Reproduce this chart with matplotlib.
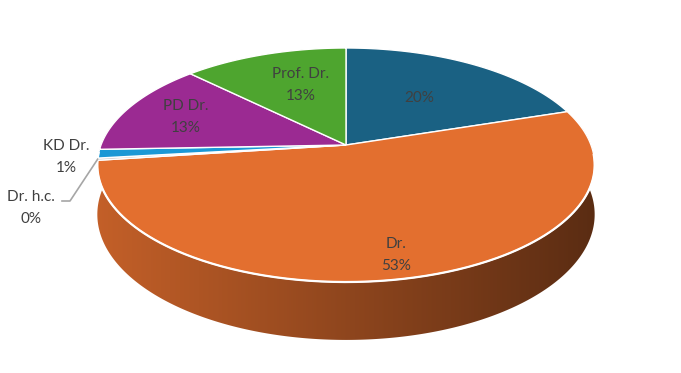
import numpy as np
import matplotlib
matplotlib.use('Agg')
import matplotlib.pyplot as plt

# data, clockwise from 12 o'clock
labels = ["", "Dr.", "Dr. h.c.", "KD Dr.", "PD Dr.", "Prof. Dr."]
values = [20.0, 52.9, 0.3, 1.2, 13.0, 12.6]
colors = ["#1a6183", "#e36f2f", "#c8c8c8", "#1b98d5", "#9b2a92", "#4ea52f"]

# geometry of the fake 3d pie (pixel space)
cx, rx = 346, 245
A, B, k = -88.8, 145.0, 0.171
depth = 48.0

def proj(u, v, h=1.0):
    s = 1.0 / (1 + k * v)
    x = cx + rx * u * s
    y = (A * v + B) * s + (1 - h) * depth * s
    return x, y

fig = plt.figure(figsize=(6.81, 3.73), dpi=100)
ax = fig.add_axes([0, 0, 1, 1])
ax.set_xlim(0, 681)
ax.set_ylim(373, 0)
ax.axis('off')

fracs = np.array(values) / sum(values)
edges = np.concatenate([[0], np.cumsum(fracs)]) * 2 * np.pi

# side: only the front (orange) part is visible, shaded left -> right
t = np.linspace(np.radians(80), np.radians(280), 400)
top_arc = [proj(np.sin(a), np.cos(a), 1) for a in t]
bot_arc = [proj(np.sin(a), np.cos(a), 0) for a in t[::-1]]
side = plt.Polygon(top_arc + bot_arc, closed=True, facecolor='none', edgecolor='none')
ax.add_patch(side)
xs = np.linspace(90, 600, 256)
f = 0.86 - 0.46 * (xs - 97) / 497
base = np.array(matplotlib.colors.to_rgb(colors[1]))
grad = np.clip(f[:, None] * base[None, :], 0, 1)[None, :, :]
im = ax.imshow(grad, extent=(90, 600, 360, 100), aspect='auto', interpolation='bilinear', zorder=1)
im.set_clip_path(side)

# top wedges
for i in range(len(values)):
    tt = np.linspace(edges[i], edges[i + 1], 200)
    pts = [proj(0, 0)] + [proj(np.sin(a), np.cos(a)) for a in tt]
    ax.add_patch(plt.Polygon(pts, closed=True, facecolor=colors[i], edgecolor='white',
                             linewidth=1.0, zorder=2))

# white rim on the front edge
t = np.linspace(np.radians(95), np.radians(266), 300)
rim = np.array([proj(np.sin(a), np.cos(a)) for a in t])
ax.plot(rim[:, 0], rim[:, 1], color='white', lw=1.6, zorder=3)

# labels
txt = dict(fontsize=11, color='#404040', family=['Lato', 'DejaVu Sans'],
           ha='center', va='center', linespacing=1.75, zorder=4)
r_lab = [0.55, 0.8, None, None, 0.72, 0.63]
nudge = [(0, 0), (0, 8), (0, 0), (0, 0), (-3, 0), (9, 0)]
for i, (lab, val) in enumerate(zip(labels, values)):
    pct = f"{val:.0f}%"
    s = pct if lab == "" else f"{lab}\n{pct}"
    if r_lab[i] is not None:
        am = (edges[i] + edges[i + 1]) / 2
        x, y = proj(r_lab[i] * np.sin(am), r_lab[i] * np.cos(am))
        ax.text(x + nudge[i][0], y + nudge[i][1], s, **txt)

ax.text(66, 157, f"{labels[3]}\n{values[3]:.0f}%", **txt)
ax.text(31, 208, f"{labels[2]}\n{values[2]:.0f}%", **txt)
am = (edges[2] + edges[3]) / 2
ex, ey = proj(np.sin(am), np.cos(am))
ax.plot([62, 70, ex], [201, 201, ey], color='#a6a6a6', lw=1.2, zorder=4)

fig.savefig('out.png', dpi=100)
